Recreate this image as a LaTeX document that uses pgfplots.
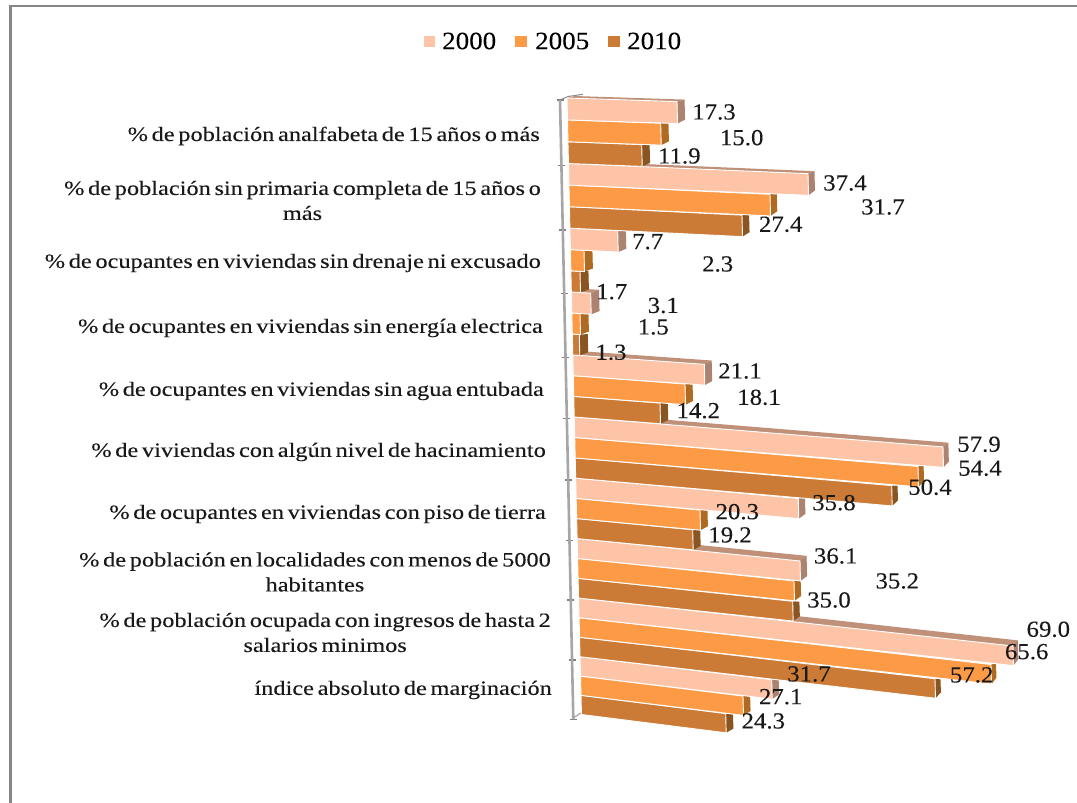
\documentclass[border=0pt]{standalone}
\usepackage{fontspec}
\usepackage{pgfplots}
\pgfplotsset{compat=1.18}
\setmainfont{Liberation Serif}[FakeStretch=1.2,FakeBold=0.15,WordSpace=0.6]
\newfontfamily\numfont{Liberation Serif}[FakeStretch=1.08,FakeBold=0.1]
\definecolor{cA}{HTML}{FDC4A8}
\definecolor{cB}{HTML}{FC9A46}
\definecolor{cC}{HTML}{CB7B36}
\definecolor{sA}{HTML}{AC8270}
\definecolor{sB}{HTML}{B06B22}
\definecolor{sC}{HTML}{8A5520}
\definecolor{tA}{HTML}{C09078}
% \BAR{group}{position in group}{value}{pixel end of the front face}{face colour}{side colour}
\newcommand{\BAR}[6]{%
 \pgfmathsetmacro{\tt}{#1+#2/3}%
 \pgfmathsetmacro{\xo}{567+1.45*\tt}%
 \pgfmathsetmacro{\yo}{98+65.95*\tt-0.43*\tt*\tt}%
 \pgfmathsetmacro{\hh}{65.95/3-0.43*(2*\tt/3+1/9)}%
 \pgfmathsetmacro{\mm}{0.031+0.0097*(\tt+1/6)}%
 \pgfmathsetmacro{\kk}{0.0235}%
 \pgfmathsetmacro{\ss}{(#4-\xo)/#3}%
 \pgfmathsetmacro{\LL}{#4-\xo}%
 \pgfmathsetmacro{\dx}{8.5-0.0085*\LL}%
 \pgfmathsetmacro{\dyt}{#2==0 ? -(2+0.45*#1) : (#2==1 ? -1.5+0.1*#1 : -1+0.2*#1)}%
 \pgfmathsetmacro{\dyb}{-3-0.008*\LL}%
 \pgfmathsetmacro{\Bt}{(\dyt-\dx*\mm)/(\hh*(1-\kk*\mm))}%
 \pgfmathsetmacro{\At}{(\dx-\Bt*\kk*\hh)/\ss}%
 \pgfmathsetmacro{\Bb}{1+(\dyb-\dx*\mm)/(\hh*(1-\kk*\mm))}%
 \pgfmathsetmacro{\Ab}{(\dx-(\Bb-1)*\kk*\hh)/\ss}%
 \pgfmathsetmacro{\vt}{#3+\At}%
 \pgfmathsetmacro{\vb}{#3+\Ab}%
 \pgfmathsetmacro{\sx}{\ss}%
 \pgfmathsetmacro{\sy}{-\ss*\mm}%
 \pgfmathsetmacro{\kx}{\kk*\hh}%
 \begin{axis}[at={(\xo pt,-\yo pt)},anchor=origin,
   x={(\sx pt,\sy pt)},y={(\kx pt,-\hh pt)},
   xmin=0,xmax=#3,ymin=0,ymax=1,hide axis,clip=false]
  \ifnum#2=0
   \addplot[fill=tA,draw=none] coordinates {(0,0) (#3,0) (\vt,\Bt) (\At,\Bt)} -- cycle;
  \fi
  \addplot[fill=#6,draw=none] coordinates {(#3,0) (\vt,\Bt) (\vb,\Bb) (#3,1)} -- cycle;
  \addplot[fill=#5,draw=white,line width=0.9pt] coordinates {(0,0) (#3,0) (#3,1) (0,1)} -- cycle;
 \end{axis}%
}
\newcommand{\V}[3]{\node[anchor=center,inner sep=0pt,text=black!90,font=\numfont\fontsize{23}{25}\selectfont] at (#1pt,-#2pt) {#3};}
\newcommand{\C}[3]{\node[anchor=east,align=center,inner sep=0pt,text=black!90,font=\fontsize{20.3}{25}\selectfont] at (#1pt,-#2pt) {#3};}
\begin{document}
\begin{tikzpicture}[x=1pt,y=1pt]
\useasboundingbox (0,0) rectangle (1077,-803);
\fill[white] (0,0) rectangle (1077,-803);
\draw[color=gray!95,line width=2.5pt] (10.5,-803) -- (10.5,-6) -- (1077,-6);
% legend
\fill[cA] (424,-36) rectangle (435,-47);
\node[anchor=west,inner sep=0pt] at (442,-41) {\numfont\fontsize{25}{25}\selectfont 2000};
\fill[cB] (515,-36) rectangle (527,-47);
\node[anchor=west,inner sep=0pt] at (535,-41) {\numfont\fontsize{25}{25}\selectfont 2005};
\fill[cC] (608,-36) rectangle (620,-47);
\node[anchor=west,inner sep=0pt] at (627,-41) {\numfont\fontsize{25}{25}\selectfont 2010};
% category axis
\draw[color=black!45,line width=1pt] (560,-100) -- (568,-96.5) -- (583,-94.3);
\draw[color=black!35,line width=1.2pt] (573.3,-718) -- (580.7,-713);
\begin{axis}[at={(560pt,-100pt)},anchor=origin,
  x={(1pt,0pt)},y={(0.0215pt,-1pt)},
  xmin=0,xmax=10,ymin=0,ymax=619.3,
  axis x line=none,axis y line=left,
  every outer y axis line/.append style={draw=black!35,line width=2.6pt,-},
  y axis line style={draw=black!35,line width=2.6pt,-},
  ytick={0,65.7,130,193.7,257.3,318.3,380,440.7,500,560,619.3},yticklabels={},
  major tick length=7pt,tick style={color=black!50,line width=1.3pt},clip=false]
\end{axis}
% bars
\BAR{9}{2}{24.3}{725.7}{cC}{sC}
\BAR{9}{1}{27.1}{743}{cB}{sB}
\BAR{9}{0}{31.7}{771.7}{cA}{sA}
\BAR{8}{2}{57.2}{935}{cC}{sC}
\BAR{8}{1}{65.6}{991}{cB}{sB}
\BAR{8}{0}{69.0}{1013}{cA}{sA}
\BAR{7}{2}{35.0}{792.7}{cC}{sC}
\BAR{7}{1}{35.2}{794}{cB}{sB}
\BAR{7}{0}{36.1}{800}{cA}{sA}
\BAR{6}{2}{19.2}{692.7}{cC}{sC}
\BAR{6}{1}{20.3}{700}{cB}{sB}
\BAR{6}{0}{35.8}{798.3}{cA}{sA}
\BAR{5}{2}{50.4}{891.7}{cC}{sC}
\BAR{5}{1}{54.4}{918}{cB}{sB}
\BAR{5}{0}{57.9}{943}{cA}{sA}
\BAR{4}{2}{14.2}{660}{cC}{sC}
\BAR{4}{1}{18.1}{685}{cB}{sB}
\BAR{4}{0}{21.1}{704.3}{cA}{sA}
\BAR{3}{2}{1.3}{579.3}{cC}{sC}
\BAR{3}{1}{1.5}{580}{cB}{sB}
\BAR{3}{0}{3.1}{590.7}{cA}{sA}
\BAR{2}{2}{1.7}{580}{cC}{sC}
\BAR{2}{1}{2.3}{584}{cB}{sB}
\BAR{2}{0}{7.7}{617.7}{cA}{sA}
\BAR{1}{2}{27.4}{742}{cC}{sC}
\BAR{1}{1}{31.7}{770}{cB}{sB}
\BAR{1}{0}{37.4}{808}{cA}{sA}
\BAR{0}{2}{11.9}{641.7}{cC}{sC}
\BAR{0}{1}{15.0}{660.7}{cB}{sB}
\BAR{0}{0}{17.3}{677}{cA}{sA}
% value labels
\V{714}{112}{17.3}\V{741.7}{137.7}{15.0}\V{679.3}{156}{11.9}
\V{845}{183}{37.4}\V{883}{207}{31.7}\V{780.7}{224.3}{27.4}
\V{647.7}{241.7}{7.7}\V{717.7}{264}{2.3}\V{611.7}{291.7}{1.7}
\V{663.3}{305.5}{3.1}\V{653.3}{327}{1.5}\V{611}{352.3}{1.3}
\V{740}{371}{21.1}\V{759}{397.3}{18.1}\V{698.3}{410.7}{14.2}
\V{979}{444.3}{57.9}\V{980}{468.3}{54.4}\V{930}{487.3}{50.4}
\V{834}{502.7}{35.8}\V{737.3}{511.7}{20.3}\V{730}{535}{19.2}
\V{835.7}{556}{36.1}\V{897.3}{581}{35.2}\V{829}{600}{35.0}
\V{1048.3}{629.3}{69.0}\V{1026.7}{651.7}{65.6}\V{971.7}{675}{57.2}
\V{809}{674}{31.7}\V{780.7}{696.7}{27.1}\V{763.3}{721}{24.3}
% category labels
\C{540}{136}{\% de población analfabeta de 15 años o más}
\C{541}{200.5}{\% de población sin primaria completa de 15 años o\\más}
\C{541}{263}{\% de ocupantes en viviendas sin drenaje ni excusado}
\C{543}{328}{\% de ocupantes en viviendas sin energía electrica}
\C{544}{391}{\% de ocupantes en viviendas sin agua entubada}
\C{546}{452}{\% de viviendas con algún nivel de hacinamiento}
\C{546}{514}{\% de ocupantes en viviendas con piso de tierra}
\C{551}{572}{\% de población en localidades con menos de 5000\\habitantes}
\C{551}{632.5}{\% de población ocupada con ingresos de hasta 2\\salarios minimos}
\C{552}{690}{índice absoluto de marginación}
\end{tikzpicture}
\end{document}
